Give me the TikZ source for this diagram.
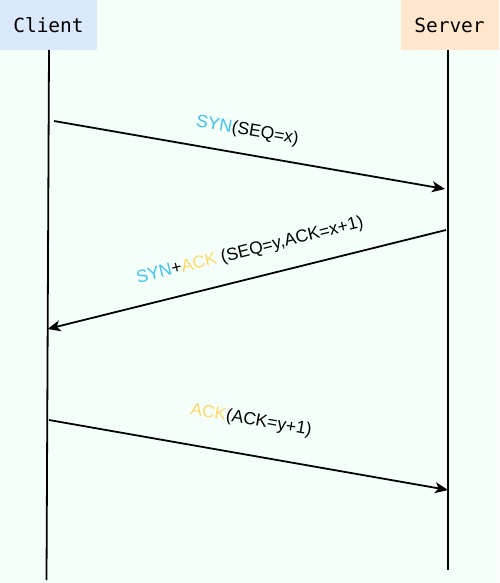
\documentclass[tikz,border=0pt]{standalone}
\usepackage{fontspec}
\setmainfont{Liberation Sans}
\newfontfamily\monofnt{DejaVu Sans Mono}
\usetikzlibrary{arrows.meta}
\definecolor{bgc}{HTML}{F5FFFA}
\definecolor{clientfill}{HTML}{DAE8FC}
\definecolor{serverfill}{HTML}{FFE6CC}
\definecolor{syncol}{HTML}{3CC3F2}
\definecolor{ackcol}{HTML}{FFD966}
\tikzset{
  actorbox/.style={draw=none, inner sep=0pt, font=\monofnt\fontsize{19.5}{22}\selectfont},
  lifeline/.style={line width=1.8pt, black},
  msg/.style={line width=1.8pt, black, -{Stealth[length=13pt,width=11pt,inset=3.5pt]}},
  msglabel/.style={inner sep=0pt, font=\fontsize{17.5}{20}\selectfont}
}
\begin{document}
\begin{tikzpicture}[x=1pt,y=-1pt]
\fill[bgc] (0,0) rectangle (499,583);
\useasboundingbox (0,0) rectangle (499,583);
% actor boxes
\fill[clientfill] (0,0) rectangle (97,50);
\fill[serverfill] (401,0) rectangle (499,50);
\node[actorbox] (client) at (48.5,25) {Client};
\node[actorbox] (server) at (449.5,25) {Server};
% lifelines
\coordinate (ctop) at (49,50);
\coordinate (cbot) at (46.5,580);
\coordinate (stop) at (448,50);
\coordinate (sbot) at (448,570);
\draw[lifeline] (ctop) -- (cbot);
\draw[lifeline] (stop) -- (sbot);
% message end points
\coordinate (m1s) at (54,121);
\coordinate (m1e) at (445,189);
\coordinate (m2s) at (446,230);
\coordinate (m2e) at (47.5,329);
\coordinate (m3s) at (49,420);
\coordinate (m3e) at (448,490);
\draw[msg] (m1s) -- (m1e);
\draw[msg] (m2s) -- (m2e);
\draw[msg] (m3s) -- (m3e);
% labels
\node[msglabel, rotate=-9.9] (l1) at (247.5,131) {\textcolor{syncol}{SYN}(SEQ=x)};
\node[msglabel, rotate=14] (l2) at (250,251) {\textcolor{syncol}{SYN}+\textcolor{ackcol}{ACK} (SEQ=y,ACK=x+1)};
\node[msglabel, rotate=-9.9] (l3) at (251,420.5) {\textcolor{ackcol}{ACK}(ACK=y+1)};
\end{tikzpicture}
\end{document}
